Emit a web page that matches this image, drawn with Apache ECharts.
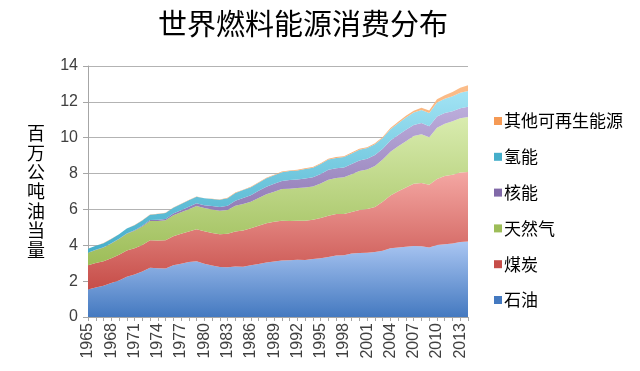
<!DOCTYPE html>
<html>
<head>
<meta charset="utf-8">
<script src="https://cdn.jsdelivr.net/npm/echarts@6/dist/echarts.min.js"></script>
<style>
html,body{margin:0;padding:0;background:#fff;}
#chart{width:640px;height:371px;}
</style>
</head>
<body>
<div id="chart"></div>
<script>
var years = [];
for (var y = 1965; y <= 2014; y++) years.push(String(y));

var oil = [1.53,1.64,1.75,1.89,2.04,2.25,2.37,2.54,2.75,2.72,2.71,2.88,2.97,3.07,3.11,2.97,2.87,2.79,2.77,2.81,2.80,2.88,2.95,3.04,3.10,3.15,3.16,3.19,3.18,3.24,3.27,3.35,3.43,3.45,3.54,3.57,3.59,3.62,3.69,3.83,3.88,3.92,3.96,3.94,3.87,4.02,4.06,4.10,4.19,4.21];
var coal = [1.35,1.37,1.36,1.39,1.43,1.46,1.46,1.48,1.53,1.54,1.57,1.62,1.67,1.70,1.78,1.81,1.82,1.83,1.87,1.96,2.03,2.07,2.14,2.19,2.21,2.22,2.19,2.18,2.19,2.19,2.25,2.30,2.31,2.30,2.32,2.40,2.43,2.52,2.74,2.95,3.13,3.31,3.47,3.53,3.50,3.68,3.81,3.83,3.87,3.88];
var gas = [0.70,0.73,0.77,0.82,0.88,0.93,0.98,1.03,1.08,1.10,1.11,1.17,1.20,1.24,1.30,1.30,1.31,1.31,1.33,1.43,1.47,1.48,1.55,1.61,1.68,1.77,1.81,1.82,1.85,1.85,1.92,2.01,2.01,2.04,2.10,2.18,2.21,2.28,2.35,2.44,2.51,2.57,2.66,2.73,2.66,2.86,2.91,2.99,3.03,3.07];
var nuclear = [0.01,0.01,0.01,0.01,0.01,0.02,0.03,0.04,0.05,0.07,0.08,0.10,0.12,0.14,0.15,0.16,0.19,0.21,0.24,0.29,0.34,0.36,0.40,0.43,0.44,0.45,0.48,0.48,0.50,0.51,0.53,0.55,0.54,0.55,0.57,0.58,0.60,0.61,0.60,0.62,0.63,0.64,0.62,0.62,0.61,0.63,0.60,0.56,0.56,0.57];
var hydro = [0.21,0.22,0.23,0.24,0.25,0.27,0.28,0.29,0.30,0.32,0.33,0.33,0.34,0.36,0.37,0.38,0.39,0.40,0.42,0.43,0.44,0.45,0.45,0.47,0.47,0.49,0.50,0.50,0.53,0.53,0.56,0.57,0.58,0.58,0.59,0.60,0.59,0.60,0.60,0.63,0.66,0.69,0.70,0.73,0.74,0.78,0.79,0.83,0.86,0.88];
var renewables = [0.01,0.01,0.01,0.01,0.01,0.01,0.01,0.01,0.01,0.01,0.01,0.01,0.01,0.01,0.01,0.01,0.01,0.01,0.02,0.02,0.02,0.02,0.02,0.03,0.03,0.03,0.03,0.04,0.04,0.04,0.04,0.04,0.05,0.05,0.05,0.05,0.05,0.06,0.06,0.07,0.08,0.09,0.10,0.12,0.14,0.17,0.20,0.24,0.28,0.32];

var seriesNames = ['石油','煤炭','天然气','核能','氢能','其他可再生能源'];
var seriesData = [oil, coal, gas, nuclear, hydro, renewables];
var topColors = ['#aac6f2','#f4a7a3','#d9ecaf','#bcaddb','#a2e3f4','#fbbd8a'];
var bottomColors = ['#4479c0','#c64d48','#9dbd58','#8169a8','#45aeca','#f59a55'];

var FONT = '"Liberation Sans", "Noto Sans CJK SC", sans-serif';

var series = seriesNames.map(function(name, i){
  return {
    name: name,
    type: 'line',
    stack: 'total',
    data: seriesData[i],
    symbol: 'none',
    smooth: false,
    lineStyle: {width: 0},
    itemStyle: {color: bottomColors[i]},
    areaStyle: {
      opacity: 1,
      color: new echarts.graphic.LinearGradient(0,0,0,1,[
        {offset:0,color:topColors[i]},
        {offset:1,color:bottomColors[i]}
      ])
    }
  };
});

var chart = echarts.init(document.getElementById('chart'), null, {renderer:'canvas'});
chart.setOption({
  animation: false,
  backgroundColor: '#fff',
  title: {
    text: '世界燃料能源消费分布',
    left: 298, top: 4, textAlign: 'center',
    textStyle: {fontFamily: '"Noto Sans CJK SC", sans-serif', fontSize: 29, fontWeight: 'normal', color: '#000'}
  },
  legend: {
    orient: 'vertical',
    left: 489, top: 107,
    itemWidth: 8, itemHeight: 8,
    itemGap: 17.8,
    icon: 'rect',
    data: ['其他可再生能源','氢能','核能','天然气','煤炭','石油'],
    textStyle: {fontFamily: '"Noto Sans CJK SC", sans-serif', fontSize: 17, color: '#000', lineHeight: 18, padding:[0,0,0,-3]}
  },
  grid: {left: 88, right: 172, top: 66, bottom: 54, containLabel: false},
  xAxis: {
    type: 'category',
    boundaryGap: false,
    data: years,
    axisLine: {lineStyle: {color: '#a6a6a6', width: 1}},
    axisTick: {show: true, interval: 0, length: 4, lineStyle: {color: '#a6a6a6'}},
    axisLabel: {interval: 2, rotate: 90, fontFamily: FONT, fontSize: 16, color: '#404040', margin: 6},
    splitLine: {show: false}
  },
  yAxis: {
    type: 'value',
    min: 0, max: 14, interval: 2,
    name: '百\n万\n公\n吨\n油\n当\n量',
    nameLocation: 'middle',
    nameGap: 43,
    nameRotate: 0,
    nameTextStyle: {fontFamily: '"Noto Sans CJK SC", sans-serif', fontSize: 18, color: '#000', lineHeight: 19.4, padding: [18,0,0,0]},
    axisLine: {show: true, lineStyle: {color: '#a6a6a6', width: 1}},
    axisTick: {show: true, inside: false, length: 5, lineStyle: {color: '#a6a6a6'}},
    axisLabel: {fontFamily: FONT, fontSize: 16, color: '#404040', margin: 10},
    splitLine: {show: true, lineStyle: {color: '#b3b3b3', width: 1}}
  },
  series: series
});
</script>
</body>
</html>
